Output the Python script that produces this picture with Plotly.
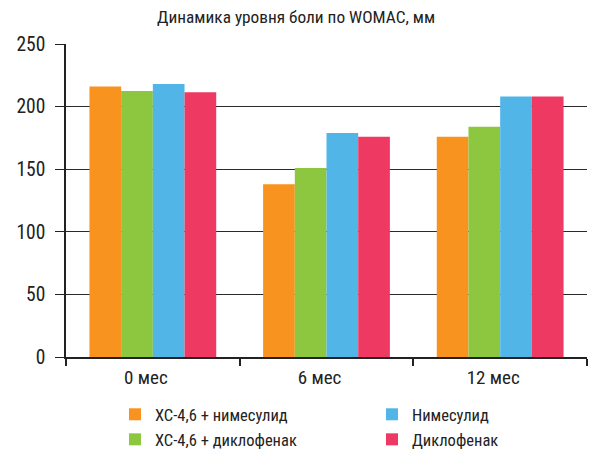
import plotly.graph_objects as go

categories = ["0 мес", "6 мес", "12 мес"]
series_names = ["ХС-4,6 + нимесулид", "ХС-4,6 + диклофенак", "Нимесулид", "Диклофенак"]
series_values = [
    [216, 138, 176],
    [212.5, 151, 184],
    [218, 179, 208],
    [211.5, 176, 208],
]
colors = ["#F7931E", "#8DC63F", "#51B6E7", "#EE3A62"]
legend_rows = ["legend", "legend2", "legend", "legend2"]
y_ticks = [0, 50, 100, 150, 200, 250]

FONT = "Roboto Condensed, Liberation Sans Narrow, DejaVu Sans Condensed, Roboto, sans-serif"

fig = go.Figure()
for name, vals, col, lg in zip(series_names, series_values, colors, legend_rows):
    fig.add_trace(go.Bar(
        x=categories, y=vals, name=name,
        marker=dict(color=col, line=dict(width=0)),
        legend=lg,
    ))

legend_common = dict(orientation="h", x=0.094, xanchor="left", yanchor="top",
                     entrywidth=212, entrywidthmode="pixels",
                     font=dict(family=FONT, size=16.5, color="#222"),
                     bgcolor="rgba(0,0,0,0)", traceorder="normal")

# page has an 8px body margin, so the figure is sized/offset accordingly
fig.update_layout(
    width=588, height=443,
    margin=dict(l=58, r=9, t=36, b=94, autoexpand=False),
    paper_bgcolor="white", plot_bgcolor="white",
    barmode="group", bargap=0.27, bargroupgap=0,
    font=dict(family=FONT, size=16, color="#222"),
    title=dict(text="Динамика уровня боли по WOMAC, мм", x=0.49, xanchor="center",
               y=0.98, yanchor="middle", font=dict(family=FONT, size=17.3, color="#222")),
    showlegend=True,
    legend=dict(y=-0.128, **legend_common),
    legend2=dict(y=-0.208, **legend_common),
)

fig.update_xaxes(
    showline=True, linecolor="#222", linewidth=1.6,
    ticks="outside", tickson="boundaries", ticklen=7, tickwidth=1.6, tickcolor="#222",
    showgrid=False, tickfont=dict(size=19), ticklabelshift=-7, ticklabelstandoff=2,
)
fig.update_yaxes(
    range=[0, 250], tickvals=y_ticks,
    showline=True, linecolor="#222", linewidth=1.6,
    ticks="outside", ticklen=9, tickwidth=1.4, tickcolor="#222",
    showgrid=True, gridcolor="#2a2a2a", gridwidth=1.3,
    zeroline=False, tickfont=dict(size=19.5), ticklabelstandoff=6,
)

fig.write_html("out.html")
